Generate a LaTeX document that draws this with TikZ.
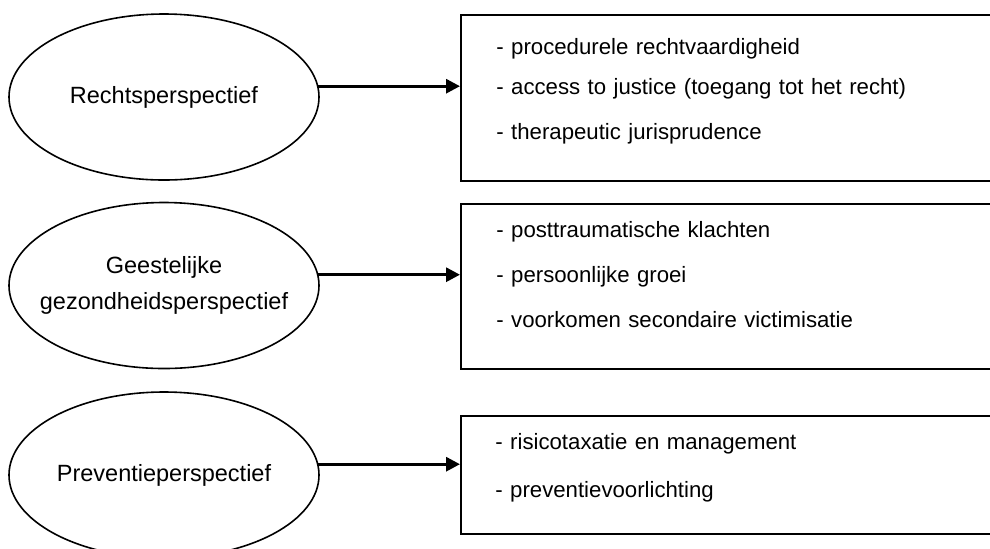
\documentclass[tikz,border=0pt]{standalone}
\usepackage{fontspec}
\setmainfont{Liberation Sans}
\usetikzlibrary{arrows.meta,positioning,shapes.geometric}

\begin{document}
\begin{tikzpicture}[x=0.5pt,y=-0.5pt,
  persp/.style={draw,ellipse,line width=0.8pt,minimum width=155pt,
    minimum height=83pt,inner ysep=0pt,inner xsep=-20pt,align=center,
    font=\fontsize{11.75}{18}\selectfont},
  kader/.style={draw,line width=1pt,anchor=north west,minimum width=280pt,
    inner sep=0pt},
  lijst/.style={anchor=north west,align=left,text width=240pt,inner sep=0pt,
    font=\fontsize{11.1}{22.5}\selectfont},
  arr/.style={-{Triangle[length=7pt,width=7pt]},line width=1.5pt}]
  \useasboundingbox (0,0) rectangle (990,548);
  \clip (0,0) rectangle (990,548);
  % perspectieven
  \node[persp] (recht) at (164,97) {Rechtsperspectief};
  \node[persp] (ggz) at (164,285.5) {Geestelijke\\ gezondheidsperspectief};
  \node[persp] (prev) at (164,475) {Preventieperspectief};
  % kaders met thema's
  \node[kader,minimum height=83pt] (krecht) at (460,14) {};
  \node[kader,minimum height=82.5pt] (kggz) at (460,203) {};
  \node[kader,minimum height=59pt] (kprev) at (460,415) {};
  \node[lijst] (lrecht) at ([shift={(36,24)}]krecht.north west)
    {- procedurele rechtvaardigheid\\[-2.5pt]
     - access to justice (toegang tot het recht)\\
     - therapeutic jurisprudence};
  \node[lijst] (lggz) at ([shift={(36,18)}]kggz.north west)
    {- posttraumatische klachten\\
     - persoonlijke groei\\
     - voorkomen secondaire victimisatie};
  \node[lijst] (lprev) at ([shift={(35,18)}]kprev.north west)
    {- risicotaxatie en management\\[1.5pt]
     - preventievoorlichting};
  \draw[arr] (recht.4) -- (recht.4 -| krecht.west);
  \draw[arr] (ggz.4) -- (ggz.4 -| kggz.west);
  \draw[arr] (prev.4) -- (prev.4 -| kprev.west);
\end{tikzpicture}
\end{document}
